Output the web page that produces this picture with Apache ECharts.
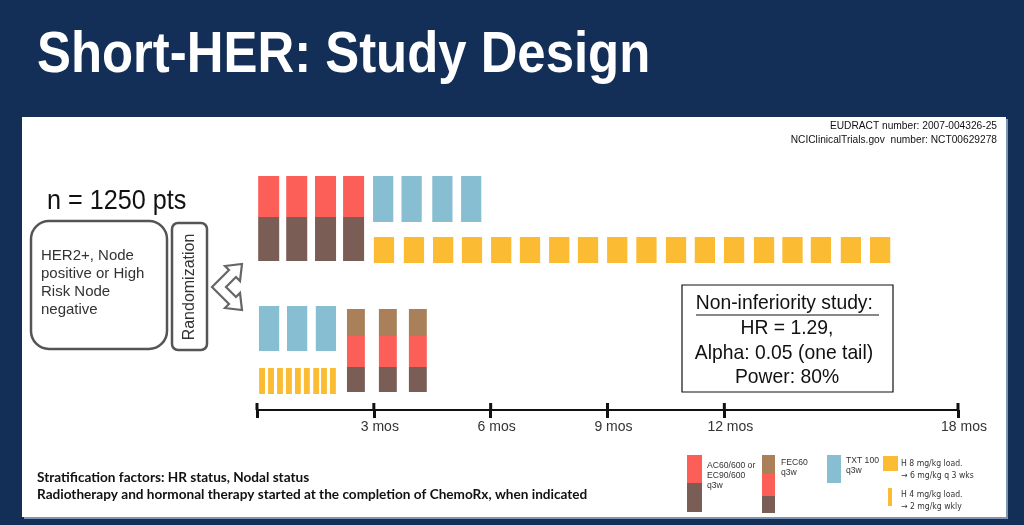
<!DOCTYPE html>
<html><head><meta charset="utf-8">
<script src="https://cdn.jsdelivr.net/npm/echarts@6/dist/echarts.min.js"></script>
<style>html,body{margin:0;padding:0;background:#132f58}#c{width:1024px;height:525px}</style>
</head><body><div id="c"></div>
<script>
// ---- data (months from randomization) ----
const tickMonths = [0, 3, 6, 9, 12, 18];
const labelMonths = [3, 6, 9, 12, 18];
const arm1AC = [0.30, 1.02, 1.76, 2.48];
const arm1TXT = [3.24, 3.97, 4.76, 5.50];
const arm1H = [3.26, 4.03, 4.78, 5.52, 6.27, 7.01, 7.76, 8.50, 9.25, 10.00, 10.76, 11.50, 12.25, 13.02, 13.75, 14.48, 15.25, 16.00];
const arm2TXT = [0.31, 1.03, 1.77];
const arm2Hweekly = [0.13, 0.36, 0.59, 0.82, 1.05, 1.28, 1.52, 1.72, 1.95];
const arm2FEC = [2.54, 3.36, 4.13];

// ---- styles ----
const RED = '#fb5f58', BROWN = '#7a5e55', BLUE = '#88bed2', YEL = '#fbbb33', TAN = '#a98059';
const FONT = 'Liberation Sans, Arial, sans-serif';

function bars(segments, w) {
  return function (params, api) {
    const m = api.value(0);
    const l = api.coord([m - w / 2, 0])[0];
    const r = api.coord([m + w / 2, 0])[0];
    return {
      type: 'group',
      children: segments.map(s => {
        const y0 = api.coord([0, s[0]])[1], y1 = api.coord([0, s[1]])[1];
        return { type: 'rect', shape: { x: l, y: Math.min(y0, y1), width: r - l, height: Math.abs(y1 - y0) }, style: { fill: s[2] } };
      })
    };
  };
}
function series(name, arr, segs, w) {
  return { type: 'custom', name: name, data: arr.map(m => [m, 0]), encode: { x: 0, y: 1 }, renderItem: bars(segs, w), clip: false, silent: true, z: 5 };
}
// upper halves of the timeline ticks (lower halves are the axis' own ticks)
const tickSeries = {
  type: 'custom', name: 'ticks', data: tickMonths.map(m => [m, 25]), encode: { x: 0, y: 1 }, clip: false, silent: true, z: 6,
  renderItem: function (params, api) {
    const p = api.coord([api.value(0), 25]);
    return { type: 'line', shape: { x1: p[0], y1: p[1] - 7, x2: p[0], y2: p[1] }, style: { stroke: '#111', lineWidth: 3 } };
  }
};

const chart = echarts.init(document.getElementById('c'), null, { renderer: 'canvas' });
const txt = (x, y, text, o, sx) => ({ type: 'text', x: x, y: y, z: 50, scaleX: sx || 1, style: Object.assign({ text: text, fill: '#222', fontFamily: FONT, fontSize: 12, textVerticalAlign: 'middle' }, o || {}) });

const option = {
  backgroundColor: '#132f58',
  animation: false,
  grid: { left: 257, right: 66, top: 160, bottom: 115 },
  xAxis: {
    type: 'value', min: 0, max: 18, position: 'bottom',
    axisLine: { show: true, onZero: false, lineStyle: { color: '#111', width: 2 } },
    axisTick: { show: true, customValues: tickMonths, length: 8, lineStyle: { color: '#111', width: 3 } },
    axisLabel: { show: true, customValues: labelMonths, formatter: '{value} mos', color: '#333', fontSize: 14, fontFamily: FONT, margin: 10, padding: [0, 0, 0, 12] },
    splitLine: { show: false }
  },
  yAxis: { type: 'value', min: 0, max: 25, inverse: true, show: false },
  series: [
    series('AC', arm1AC, [[1.6, 5.7, RED], [5.7, 10.1, BROWN]], 0.54),
    series('TXT1', arm1TXT, [[1.6, 6.2, BLUE]], 0.52),
    series('H1', arm1H, [[7.7, 10.3, YEL]], 0.52),
    series('TXT2', arm2TXT, [[14.6, 19.1, BLUE]], 0.52),
    series('Hw', arm2Hweekly, [[20.8, 23.4, YEL]], 0.15),
    series('FEC', arm2FEC, [[14.9, 17.6, TAN], [17.6, 20.7, RED], [20.7, 23.2, BROWN]], 0.46),
    tickSeries
  ],
  graphic: [
    { type: 'rect', z: -100, shape: { x: 22, y: 117, width: 984, height: 400 }, style: { fill: '#ffffff', shadowColor: '#7f93b3', shadowOffsetX: 2, shadowOffsetY: 2, shadowBlur: 0 } },
    txt(37, 56, 'Short-HER: Study Design', { fill: '#ffffff', fontSize: 58, fontWeight: 'bold' }, 0.877),
    txt(997, 126, 'EUDRACT number: 2007-004326-25', { textAlign: 'right', fontSize: 10.2, fill: '#111' }),
    txt(997, 140, 'NCIClinicalTrials.gov  number: NCT00629278', { textAlign: 'right', fontSize: 10.2, fill: '#111' }),
    txt(47, 201, 'n = 1250 pts', { fontSize: 28, fill: '#111' }, 0.9),
    { type: 'rect', z: 40, shape: { x: 31, y: 221, width: 136, height: 128, r: 18 }, style: { fill: '#fff', stroke: '#555', lineWidth: 2.5 } },
    txt(41, 247, 'HER2+, Node\npositive or High\nRisk Node\nnegative', { fontSize: 15, fill: '#333', lineHeight: 18, textVerticalAlign: 'top' }),
    { type: 'rect', z: 40, shape: { x: 172, y: 223, width: 35, height: 127, r: 6 }, style: { fill: '#fff', stroke: '#555', lineWidth: 2.5 } },
    { type: 'text', x: 190, y: 287, rotation: Math.PI / 2, z: 50, style: { text: 'Randomization', fontSize: 16, fontFamily: FONT, fill: '#333', textAlign: 'center', textVerticalAlign: 'middle' } },
    { type: 'polygon', z: 40, shape: { points: [[212, 287], [229, 270], [225, 266], [242, 264], [240, 281], [236, 277], [226, 287], [236, 297], [240, 293], [242, 310], [225, 308], [229, 304]] }, style: { fill: '#fff', stroke: '#666', lineWidth: 2.2, lineJoin: 'miter' } },
    { type: 'rect', z: 40, shape: { x: 682, y: 285, width: 211, height: 107 }, style: { fill: '#fff', stroke: '#111', lineWidth: 1.2 } },
    txt(787, 303, 'Non-inferiority study: ', { fontSize: 21, textAlign: 'center', fill: '#111' }, 0.92),
    { type: 'line', z: 50, shape: { x1: 696, y1: 315, x2: 879, y2: 315 }, style: { stroke: '#111', lineWidth: 1.2 } },
    txt(787, 328, 'HR = 1.29,', { fontSize: 21, textAlign: 'center', fill: '#111' }, 0.92),
    txt(784, 353, 'Alpha: 0.05 (one tail)', { fontSize: 21, textAlign: 'center', fill: '#111' }, 0.92),
    txt(787, 377, 'Power: 80%', { fontSize: 21, textAlign: 'center', fill: '#111' }, 0.92),
    txt(37, 478, 'Stratification factors: HR status, Nodal status', { fontSize: 13.6, fontWeight: 'bold', fontFamily: 'Lato, sans-serif', fill: '#111' }),
    txt(37, 495, 'Radiotherapy and hormonal therapy started at the completion of ChemoRx, when indicated', { fontSize: 13.6, fontWeight: 'bold', fontFamily: 'Lato, sans-serif', fill: '#111' }),
    // legend swatches
    { type: 'rect', z: 40, shape: { x: 687, y: 455, width: 15, height: 28 }, style: { fill: RED } },
    { type: 'rect', z: 40, shape: { x: 687, y: 483, width: 15, height: 29 }, style: { fill: BROWN } },
    { type: 'rect', z: 40, shape: { x: 762, y: 455, width: 13, height: 19 }, style: { fill: TAN } },
    { type: 'rect', z: 40, shape: { x: 762, y: 474, width: 13, height: 22 }, style: { fill: RED } },
    { type: 'rect', z: 40, shape: { x: 762, y: 496, width: 13, height: 17 }, style: { fill: BROWN } },
    { type: 'rect', z: 40, shape: { x: 827, y: 455, width: 14, height: 28 }, style: { fill: BLUE } },
    { type: 'rect', z: 40, shape: { x: 883, y: 456, width: 15, height: 15 }, style: { fill: YEL } },
    { type: 'rect', z: 40, shape: { x: 888, y: 488, width: 4, height: 18 }, style: { fill: YEL } },
    txt(707, 461, 'AC60/600 or\nEC90/600\nq3w', { fontSize: 8.6, lineHeight: 10, textVerticalAlign: 'top', fill: '#333' }),
    txt(781, 458, 'FEC60\nq3w', { fontSize: 8.6, lineHeight: 10, textVerticalAlign: 'top', fill: '#333' }),
    txt(846, 456, 'TXT 100\nq3w', { fontSize: 8.6, lineHeight: 10, textVerticalAlign: 'top', fill: '#333' }),
    txt(901, 458, 'H 8 mg/kg load.\n\u2192 6 mg/kg q 3 wks', { fontSize: 8.6, lineHeight: 12, textVerticalAlign: 'top', fill: '#333', fontFamily: 'DejaVu Sans, sans-serif' }, 0.9),
    txt(901, 489, 'H 4 mg/kg load.\n\u2192 2 mg/kg wkly', { fontSize: 8.6, lineHeight: 12, textVerticalAlign: 'top', fill: '#333', fontFamily: 'DejaVu Sans, sans-serif' }, 0.9)
  ]
};
chart.setOption(option);
</script></body></html>
